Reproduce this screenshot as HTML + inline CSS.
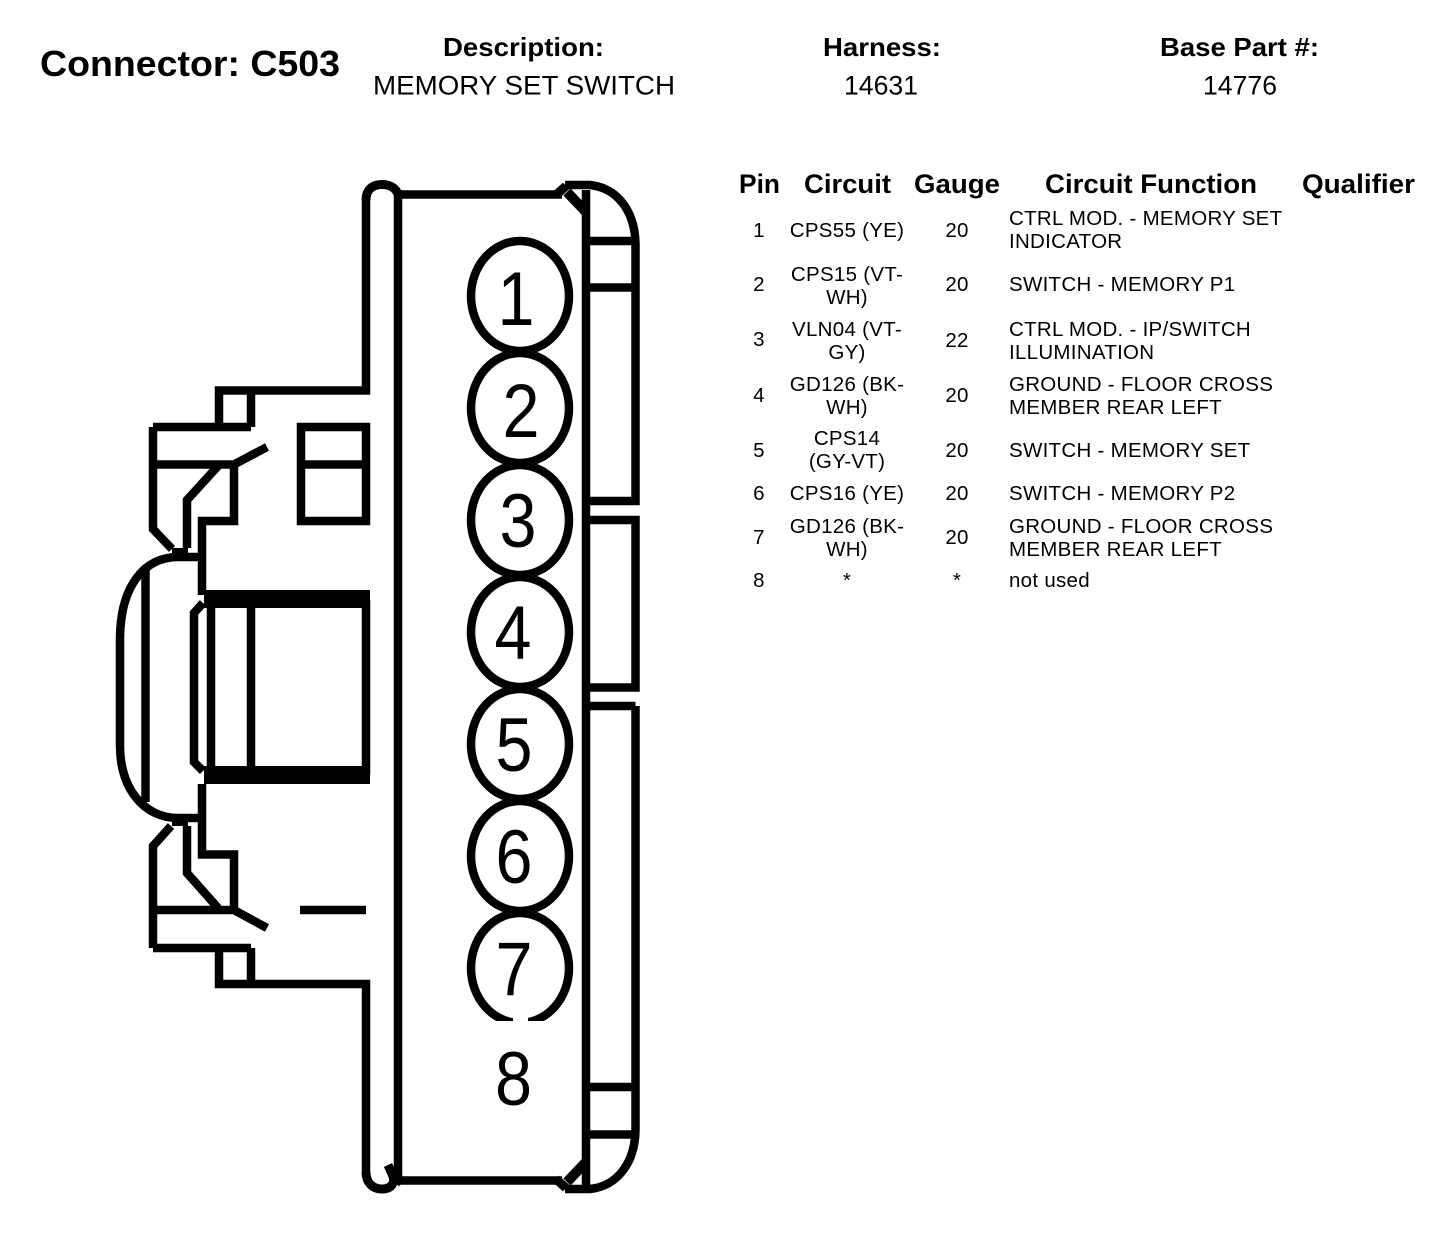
<!DOCTYPE html>
<html>
<head>
<meta charset="utf-8">
<style>
html,body{margin:0;padding:0;background:#fff;}
svg{display:block;}
text{font-family:"Liberation Sans",Arial,sans-serif;fill:#000;}
.h{font-weight:bold;font-size:26px;}
.t{font-size:27px;}
.th{font-weight:bold;font-size:27px;}
.c{font-size:20.5px;letter-spacing:.28px;}
.m{text-anchor:middle;}
.d{font-size:76px;text-anchor:middle;}
</style>
</head>
<body>
<svg width="1440" height="1238" viewBox="0 0 1440 1238" xmlns="http://www.w3.org/2000/svg">
<rect width="1440" height="1238" fill="#fff"/>
<g fill="none" stroke="#000" stroke-width="8.5" stroke-linejoin="miter">
  <!-- main body -->
  <path d="M398 190V1183M398 194.500H562M398 1180.500H562M586 190V1185"/>
  <!-- left flange -->
  <path d="M366 200V390.500H219V427M251 390.500V427M153 427H251"/>
  <path d="M366 1172V984H219V948M251 984V948M153 948H251"/>
  <path d="M366 200C366 190 372 184.500 382 184.500C392 184.500 398 190 399 198" stroke-width="9"/>
  <path d="M366 1172C366 1182 372 1189 382 1189C392 1189 396 1182 392 1174L388 1165M392 1174L402 1183" stroke-width="9"/>
  <!-- top clip -->
  <path d="M153 427V529L172 549M153 464.500H234L267 447M234 464.500V521H202V595"/>
  <path d="M187 548V500L218 466"/>
  <path d="M172 553H188" stroke-width="10"/>
  <!-- bottom clip -->
  <path d="M153 948V846L171 826M153 910H234L267 928M234 910V854.500H202V784"/>
  <path d="M187 826V873L218 908"/>
  <path d="M172 821H188" stroke-width="10"/>
  <!-- windows -->
  <rect x="301" y="427" width="65" height="94"/>
  <path d="M301 464.500H366"/>
  <path d="M300 910H366"/>
  <!-- plunger -->
  <path d="M202 557H178C145 557 120 585 120 640V745C120 790 145 818 178 818H202"/>
  <path d="M145.500 566V802"/>
  <path d="M204 599H370M204 775H370" stroke-width="18"/>
  <path d="M211 600V775M251 600V775M366 600V775"/>
  <path d="M203 603L194 613V762L203 771"/>
  <!-- right side -->
  <path d="M565 185H590C618 188 635 212 635.500 244V501H586"/>
  <path d="M586 241H635M586 287.500H635"/>
  <path d="M635.500 706V1130C635 1162 618 1186 590 1189H565"/>
  <path d="M586 1087H635M586 1134.500H637"/>
  <path d="M586 520H635.500V687.500H586M586 706H635.500"/>
  <path d="M567 192L586 212M567 1182L586 1162" stroke-width="10"/>
  <path d="M566 186L556 195M566 1188L556 1179" stroke-width="9"/>
  <!-- pin circles -->
  <ellipse cx="520" cy="296" rx="49" ry="55"/>
  <ellipse cx="520" cy="408" rx="49" ry="55"/>
  <ellipse cx="520" cy="520" rx="49" ry="55"/>
  <ellipse cx="520" cy="632" rx="49" ry="55"/>
  <ellipse cx="520" cy="744" rx="49" ry="55"/>
  <ellipse cx="520" cy="856" rx="49" ry="55"/>
  <ellipse cx="520" cy="968" rx="49" ry="55"/>
</g>
<rect x="460" y="1021" width="118" height="12" fill="#fff"/>
<rect x="513" y="1010" width="15" height="14" fill="#fff"/>
<g>
  <text class="d" x="516" y="325" textLength="37" lengthAdjust="spacingAndGlyphs">1</text>
  <text class="d" x="521" y="437" textLength="37" lengthAdjust="spacingAndGlyphs">2</text>
  <text class="d" x="518" y="547" textLength="37" lengthAdjust="spacingAndGlyphs">3</text>
  <text class="d" x="513" y="659" textLength="37" lengthAdjust="spacingAndGlyphs">4</text>
  <text class="d" x="514" y="771" textLength="37" lengthAdjust="spacingAndGlyphs">5</text>
  <text class="d" x="514" y="883" textLength="37" lengthAdjust="spacingAndGlyphs">6</text>
  <text class="d" x="514" y="995" textLength="37" lengthAdjust="spacingAndGlyphs">7</text>
  <text class="d" x="513.500" y="1105" textLength="37" lengthAdjust="spacingAndGlyphs">8</text>
</g>

<text x="40" y="76" font-size="36" font-weight="bold" textLength="300" lengthAdjust="spacingAndGlyphs">Connector: C503</text>
<text class="h" x="443" y="56" textLength="161" lengthAdjust="spacingAndGlyphs">Description:</text>
<text class="t" x="373" y="94.500" textLength="302" lengthAdjust="spacingAndGlyphs">MEMORY SET SWITCH</text>
<text class="h" x="823" y="56" textLength="118" lengthAdjust="spacingAndGlyphs">Harness:</text>
<text class="t" x="844" y="94.500" textLength="74" lengthAdjust="spacingAndGlyphs">14631</text>
<text class="h" x="1160" y="56" textLength="159" lengthAdjust="spacingAndGlyphs">Base Part #:</text>
<text class="t" x="1203" y="94.500" textLength="74" lengthAdjust="spacingAndGlyphs">14776</text>

<text class="th" x="739" y="193" textLength="41" lengthAdjust="spacingAndGlyphs">Pin</text>
<text class="th" x="804" y="193" textLength="87" lengthAdjust="spacingAndGlyphs">Circuit</text>
<text class="th" x="914" y="193" textLength="86" lengthAdjust="spacingAndGlyphs">Gauge</text>
<text class="th" x="1045" y="193" textLength="212" lengthAdjust="spacingAndGlyphs">Circuit Function</text>
<text class="th" x="1302" y="193" textLength="113" lengthAdjust="spacingAndGlyphs">Qualifier</text>

<g>
<text class="c m" x="759" y="237">1</text>
<text class="c m" x="847" y="237">CPS55 (YE)</text>
<text class="c m" x="957" y="237">20</text>
<text class="c" x="1009" y="225">CTRL MOD. - MEMORY SET</text>
<text class="c" x="1009" y="248">INDICATOR</text>

<text class="c m" x="759" y="291">2</text>
<text class="c m" x="847" y="281">CPS15 (VT-</text>
<text class="c m" x="847" y="304">WH)</text>
<text class="c m" x="957" y="291">20</text>
<text class="c" x="1009" y="291">SWITCH - MEMORY P1</text>

<text class="c m" x="759" y="346">3</text>
<text class="c m" x="847" y="336">VLN04 (VT-</text>
<text class="c m" x="847" y="359">GY)</text>
<text class="c m" x="957" y="347">22</text>
<text class="c" x="1009" y="336">CTRL MOD. - IP/SWITCH</text>
<text class="c" x="1009" y="359">ILLUMINATION</text>

<text class="c m" x="759" y="402">4</text>
<text class="c m" x="847" y="391">GD126 (BK-</text>
<text class="c m" x="847" y="414">WH)</text>
<text class="c m" x="957" y="402">20</text>
<text class="c" x="1009" y="391">GROUND - FLOOR CROSS</text>
<text class="c" x="1009" y="414">MEMBER REAR LEFT</text>

<text class="c m" x="759" y="457">5</text>
<text class="c m" x="847" y="445">CPS14</text>
<text class="c m" x="847" y="468">(GY-VT)</text>
<text class="c m" x="957" y="457">20</text>
<text class="c" x="1009" y="457">SWITCH - MEMORY SET</text>

<text class="c m" x="759" y="500">6</text>
<text class="c m" x="847" y="500">CPS16 (YE)</text>
<text class="c m" x="957" y="500">20</text>
<text class="c" x="1009" y="500">SWITCH - MEMORY P2</text>

<text class="c m" x="759" y="544">7</text>
<text class="c m" x="847" y="533">GD126 (BK-</text>
<text class="c m" x="847" y="556">WH)</text>
<text class="c m" x="957" y="544">20</text>
<text class="c" x="1009" y="533">GROUND - FLOOR CROSS</text>
<text class="c" x="1009" y="556">MEMBER REAR LEFT</text>

<text class="c m" x="759" y="587">8</text>
<text class="c m" x="847" y="587">*</text>
<text class="c m" x="957" y="587">*</text>
<text class="c" x="1009" y="587">not used</text>
</g>
</svg>
</body>
</html>
